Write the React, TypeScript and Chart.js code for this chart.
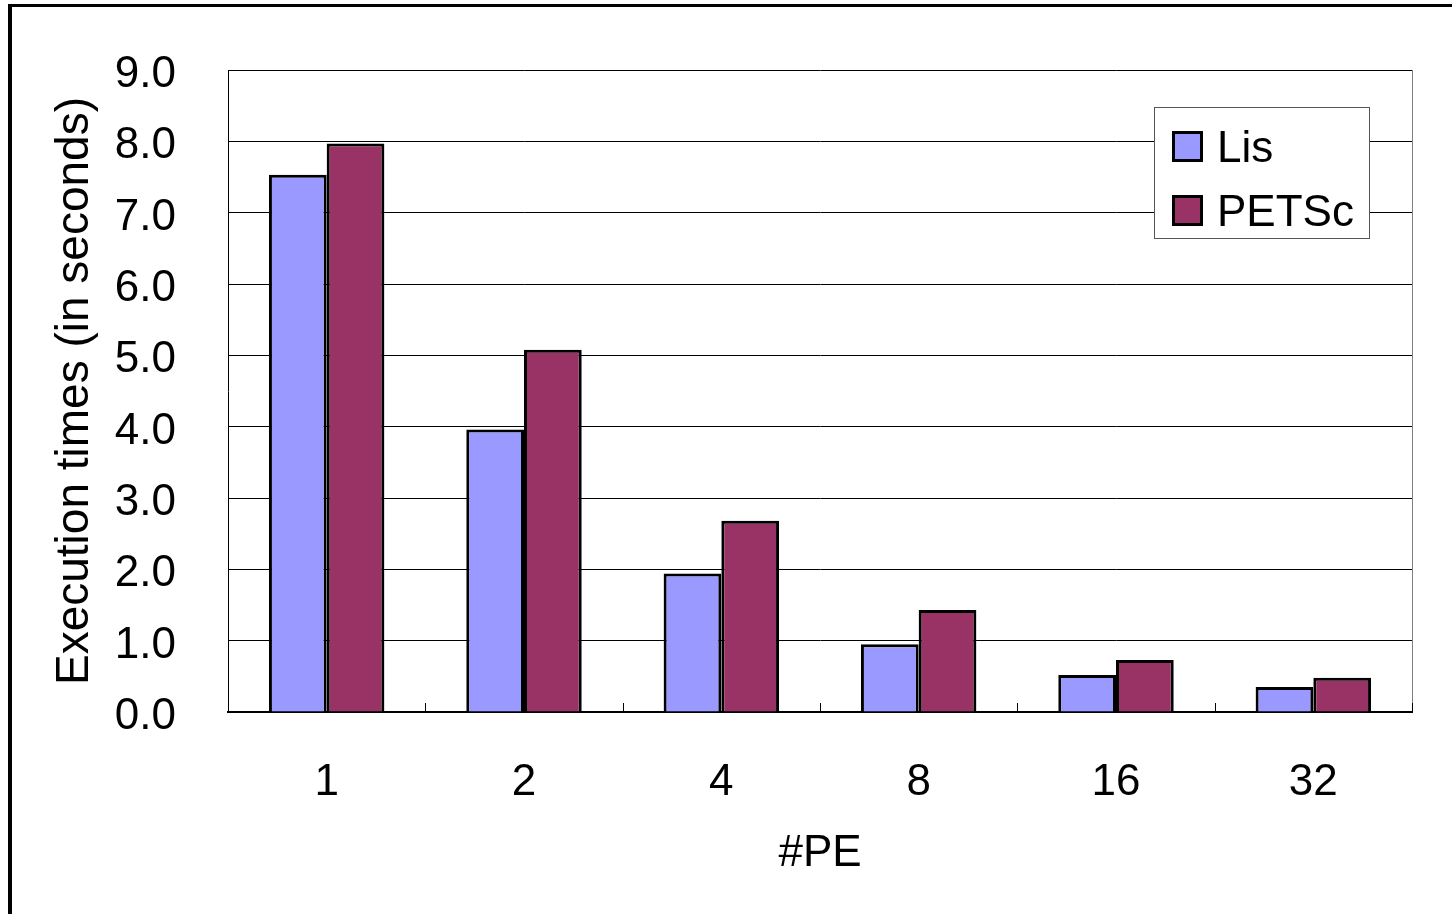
import React, { useEffect, useRef } from "react";
import { Chart, registerables } from "chart.js";

Chart.register(...registerables);

const categories = ["1", "2", "4", "8", "16", "32"];
const lisValues = [7.53, 3.96, 1.94, 0.95, 0.52, 0.35];
const petscValues = [7.97, 5.08, 2.68, 1.43, 0.73, 0.48];
const seriesNames = ["Lis", "PETSc"];
const seriesColors = ["#9999FF", "#993366"];
const yMin = 0;
const yMax = 9;
const yStep = 1;
const xTitle = "#PE";
const yTitle = "Execution times (in seconds)";

const FONT_FAMILY = "'Liberation Sans', Arial, sans-serif";

const decorPlugin = {
  id: "decor",
  afterDraw(chart: any) {
    const { ctx, chartArea: ca, scales } = chart;
    const xs = scales.x;
    ctx.save();
    // right border of plot
    ctx.strokeStyle = "#808080";
    ctx.lineWidth = 1;
    ctx.beginPath();
    ctx.moveTo(Math.round(ca.right) + 0.5, ca.top);
    ctx.lineTo(Math.round(ca.right) + 0.5, ca.bottom);
    ctx.stroke();
    // inward tick marks on x axis at category boundaries
    ctx.strokeStyle = "#000";
    ctx.beginPath();
    for (let i = 0; i <= categories.length; i++) {
      const px = Math.round(xs.getPixelForValue(i - 0.5)) + 0.5;
      ctx.moveTo(px, ca.bottom);
      ctx.lineTo(px, ca.bottom - 9);
    }
    ctx.stroke();

    // legend box
    const boxRight = ca.right - 43;
    const boxLeft = boxRight - 215;
    const boxTop = ca.top + 37;
    const boxBottom = boxTop + 131;
    ctx.fillStyle = "#fff";
    ctx.fillRect(boxLeft, boxTop, boxRight - boxLeft, boxBottom - boxTop);
    ctx.strokeStyle = "#555";
    ctx.lineWidth = 1;
    ctx.strokeRect(boxLeft + 0.5, boxTop + 0.5, boxRight - boxLeft, boxBottom - boxTop);
    ctx.font = `44px ${FONT_FAMILY}`;
    ctx.textBaseline = "alphabetic";
    ctx.textAlign = "left";
    seriesNames.forEach((name, i) => {
      const sqX = boxLeft + 18;
      const sqY = boxTop + 24 + i * 64;
      ctx.fillStyle = seriesColors[i];
      ctx.fillRect(sqX, sqY, 31, 31);
      ctx.strokeStyle = "#000";
      ctx.lineWidth = 3;
      ctx.strokeRect(sqX + 1.5, sqY + 1.5, 28, 28);
      ctx.fillStyle = "#000";
      ctx.fillText(name, boxLeft + 63, sqY + 31);
    });
    ctx.restore();
  },
};

export default function App() {
  const canvasRef = useRef<HTMLCanvasElement>(null);

  useEffect(() => {
    const canvas = canvasRef.current;
    if (!canvas) return;
    const font = { family: FONT_FAMILY, size: 44 };
    const chart = new Chart(canvas, {
      type: "bar",
      data: {
        labels: categories,
        datasets: [
          {
            label: seriesNames[0],
            data: lisValues,
            backgroundColor: seriesColors[0],
            borderColor: "#000",
            borderWidth: 3,
            categoryPercentage: 0.585,
            barPercentage: 1,
          },
          {
            label: seriesNames[1],
            data: petscValues,
            backgroundColor: seriesColors[1],
            borderColor: "#000",
            borderWidth: 3,
            categoryPercentage: 0.585,
            barPercentage: 1,
          },
        ],
      },
      options: {
        animation: false,
        responsive: false,
        maintainAspectRatio: false,
        layout: { padding: { top: 70, right: 40, left: 0, bottom: 0 } },
        plugins: { legend: { display: false }, tooltip: { enabled: false } },
        scales: {
          x: {
            grid: { display: false, drawTicks: false },
            border: { display: true, color: "#000", width: 2 },
            ticks: { font, color: "#000", padding: 44 },
            title: {
              display: true,
              text: xTitle,
              font,
              color: "#000",
              padding: { top: 0, bottom: 34 },
            },
            afterFit(scale: any) {
              scale.height = 202;
              scale.paddingLeft = 0;
              scale.paddingRight = 0;
            },
          },
          y: {
            min: yMin,
            max: yMax,
            ticks: {
              stepSize: yStep,
              font,
              color: "#000",
              padding: 52,
              labelOffset: 5,
              callback: (v: any) => Number(v).toFixed(1),
            },
            grid: { color: "#000", lineWidth: 1, drawTicks: false },
            border: { display: true, color: "#000", width: 1 },
            title: {
              display: true,
              text: yTitle,
              font: { family: FONT_FAMILY, size: 46 },
              color: "#000",
              padding: { top: 48, bottom: 0 },
            },
            afterFit(scale: any) {
              scale.width = 228;
              scale.paddingTop = 0;
              scale.paddingBottom = 0;
            },
          },
        },
      },
      plugins: [decorPlugin],
    });
    return () => chart.destroy();
  }, []);

  return (
    <div style={{ position: "fixed", left: 0, top: 0, width: 1452, height: 914, background: "#fff", overflow: "hidden" }}>
      <div
        style={{
          position: "absolute",
          left: 8,
          top: 4,
          width: 2000,
          height: 2000,
          borderLeft: "4px solid #000",
          borderTop: "3px solid #000",
        }}
      />
      <canvas ref={canvasRef} width={1452} height={914} style={{ position: "absolute", left: 0, top: 0, width: 1452, height: 914 }} />
    </div>
  );
}
